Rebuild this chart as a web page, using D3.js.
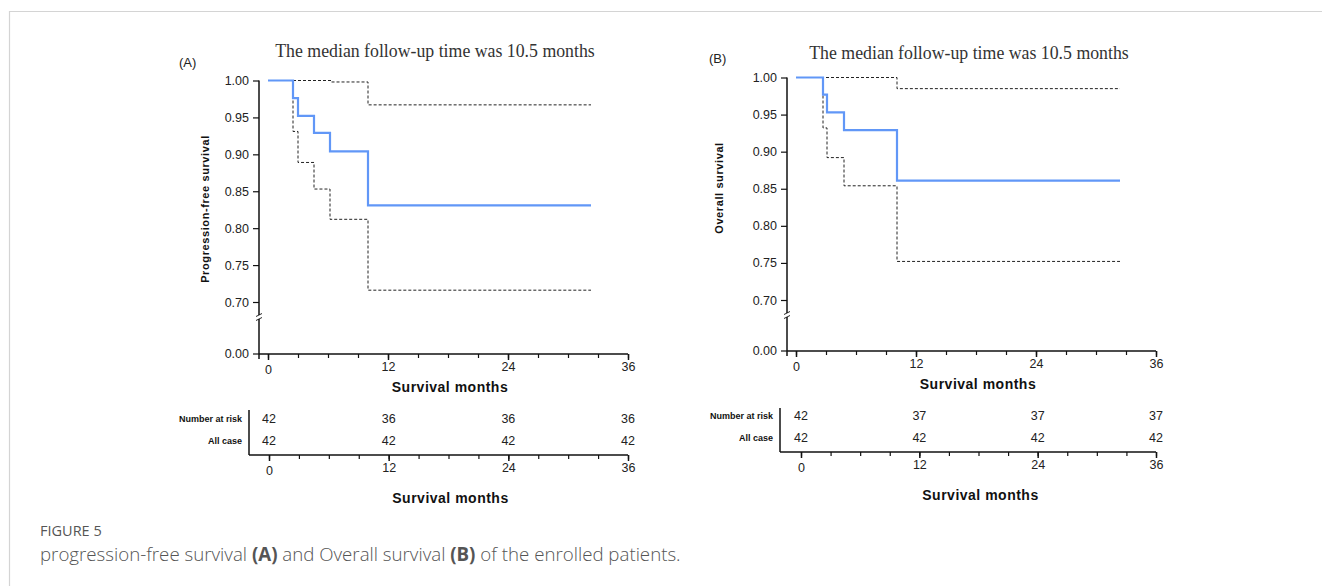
<!DOCTYPE html>
<html>
<head>
<meta charset="utf-8">
<script src="https://cdn.jsdelivr.net/npm/d3@7"></script>
<style>
  body { margin: 0; background: #fff; }
  svg { display: block; }
  .tick text { font-family: Arial, "Liberation Sans", sans-serif; }
</style>
</head>
<body>
<svg id="fig" width="1322" height="586"></svg>
<script>
// month ticks and survival ticks
const monthTicks = [0, 12, 24, 36];
const minorMonths = [0, 3, 6, 9, 12, 15, 18, 21, 24, 27, 30, 33, 36];
const survTicks = [0.70, 0.75, 0.80, 0.85, 0.90, 0.95, 1.00];

// (A) progression-free survival, KM estimate + 95% CI
const pfsTime = [0, 2.5, 3.0, 4.6, 6.2, 10.0, 32.3];
const pfsEst = [1.0, 0.976, 0.952, 0.929, 0.904, 0.831, 0.831];
const pfsUpperTime = [0, 6.3, 10.0, 32.3];
const pfsUpper = [1.0, 0.998, 0.967, 0.967];
const pfsLowerTime = [0, 2.5, 3.0, 4.6, 6.2, 10.0, 32.3];
const pfsLower = [1.0, 0.931, 0.889, 0.853, 0.812, 0.716, 0.716];

// (B) overall survival
const osTime = [0, 2.7, 3.1, 4.8, 10.1, 32.4];
const osEst = [1.0, 0.977, 0.953, 0.929, 0.861, 0.861];
const osUpperTime = [0, 10.1, 32.4];
const osUpper = [1.0, 0.985, 0.985];
const osLowerTime = [0, 2.7, 3.1, 4.8, 10.1, 32.4];
const osLower = [1.0, 0.932, 0.892, 0.854, 0.752, 0.752];

// risk tables
const riskRows = ["Number at risk", "All case"];
const pfsAtRisk = [42, 36, 36, 36];
const pfsAllCase = [42, 42, 42, 42];
const osAtRisk = [42, 37, 37, 37];
const osAllCase = [42, 42, 42, 42];

const titleText = "The median follow-up time was 10.5 months";
const svg = d3.select("#fig");
const sans = "Arial, 'Liberation Sans', sans-serif";
const tickFont = 12.5;

// figure frame
svg.append("path")
  .attr("d", "M9.5,586 L9.5,11.5 L1322,11.5")
  .attr("fill", "none").attr("stroke", "#d4d4d4").attr("stroke-width", 1.2);

function toPts(t, v) { return t.map((d, i) => [d, v[i]]); }

function drawPanel(p) {
  const g = svg.append("g");
  const x = d3.scaleLinear().domain([0, 36]).range([p.x0, p.x36]);
  const y = d3.scaleLinear().domain([0.70, 1.00]).range([p.y70, p.y100]);
  const yZero = p.yZero;

  // panel letter + title
  g.append("text").attr("x", p.letterX).attr("y", p.letterY)
    .attr("font-family", sans).attr("font-size", 13).attr("fill", "#222").text(p.letter);
  g.append("text").attr("x", p.titleX).attr("y", p.titleY).attr("text-anchor", "middle")
    .attr("font-family", "'Liberation Serif', 'Times New Roman', serif").attr("font-size", 17.8)
    .attr("fill", "#333").text(titleText);

  // y axis (upper part)
  const yAx = g.append("g").attr("transform", `translate(${p.axX},0)`)
    .call(d3.axisLeft(y).tickValues(survTicks).tickSize(6).tickSizeOuter(0).tickFormat(d3.format(".2f")));
  yAx.select(".domain").remove();
  yAx.selectAll(".tick line").attr("stroke", "#111").attr("stroke-width", 1.2);
  yAx.selectAll(".tick text").attr("font-size", tickFont).attr("fill", "#222").attr("x", -10);

  const brk = p.y70 + 15;
  g.append("line").attr("x1", p.axX).attr("x2", p.axX).attr("y1", p.y100).attr("y2", brk - 2)
    .attr("stroke", "#111").attr("stroke-width", 1.5);
  g.append("line").attr("x1", p.axX).attr("x2", p.axX).attr("y1", brk + 2).attr("y2", yZero + 5)
    .attr("stroke", "#111").attr("stroke-width", 1.5);
  [-2, 2].forEach(o => g.append("line")
    .attr("x1", p.axX - 3).attr("x2", p.axX + 3).attr("y1", brk + o + 1.5).attr("y2", brk + o - 1.5)
    .attr("stroke", "#111").attr("stroke-width", 0.9));

  // 0.00 tick
  g.append("line").attr("x1", p.axX - 6).attr("x2", p.axX).attr("y1", yZero).attr("y2", yZero)
    .attr("stroke", "#111").attr("stroke-width", 1.2);
  g.append("text").attr("x", p.axX - 10).attr("y", yZero).attr("dy", "0.32em").attr("text-anchor", "end")
    .attr("font-family", sans).attr("font-size", tickFont).attr("fill", "#222").text("0.00");

  // x axis
  drawXAxis(g, x, yZero, p.axX);

  g.append("text").attr("transform", `translate(${p.yLabX},${p.yLabY}) rotate(-90)`)
    .attr("text-anchor", "middle").attr("font-family", sans).attr("font-weight", "bold")
    .attr("font-size", 11).attr("fill", "#111").attr("letter-spacing", 0.6).text(p.yLabel);
  g.append("text").attr("x", (p.x0 + p.x36) / 2 + 2).attr("y", yZero + 38).attr("text-anchor", "middle")
    .attr("font-family", sans).attr("font-weight", "bold").attr("font-size", 14)
    .attr("letter-spacing", 0.5).attr("fill", "#111").text("Survival months");

  // curves
  const line = d3.line().x(d => x(d[0])).y(d => y(d[1])).curve(d3.curveStepAfter);
  [[p.upT, p.up], [p.loT, p.lo]].forEach(([t, v]) => {
    g.append("path").datum(toPts(t, v)).attr("d", line).attr("fill", "none")
      .attr("stroke", "#222").attr("stroke-width", 1).attr("stroke-dasharray", "3,2");
  });
  g.append("path").datum(toPts(p.estT, p.est)).attr("d", line).attr("fill", "none")
    .attr("stroke", "#6197f7").attr("stroke-width", 2.2);

  // risk table
  const rx = d3.scaleLinear().domain([0, 36]).range([p.rx0, p.rx36]);
  const tg = g.append("g");
  tg.append("line").attr("x1", p.rAxX).attr("x2", p.rAxX).attr("y1", p.rTop).attr("y2", p.rAxY)
    .attr("stroke", "#111").attr("stroke-width", 1.5);
  drawXAxis(tg, rx, p.rAxY, p.rAxX);
  [p.atRisk, p.allCase].forEach((vals, r) => {
    const yy = p.rRow0 + r * 22;
    tg.append("text").attr("x", p.rAxX - 7).attr("y", yy - 1).attr("text-anchor", "end")
      .attr("font-family", sans).attr("font-weight", "bold").attr("font-size", 9)
      .attr("fill", "#111").text(riskRows[r]);
    tg.selectAll(null).data(vals).enter().append("text")
      .attr("x", (d, i) => rx(monthTicks[i])).attr("y", yy).attr("text-anchor", "middle")
      .attr("font-family", sans).attr("font-size", tickFont).attr("fill", "#222").text(d => d);
  });
  tg.append("text").attr("x", (p.rx0 + p.rx36) / 2 + 2).attr("y", p.rAxY + 48).attr("text-anchor", "middle")
    .attr("font-family", sans).attr("font-weight", "bold").attr("font-size", 14)
    .attr("letter-spacing", 0.5).attr("fill", "#111").text("Survival months");
}

function drawXAxis(g, x, yPos, startX) {
  g.append("line").attr("x1", startX).attr("x2", x(36)).attr("y1", yPos).attr("y2", yPos)
    .attr("stroke", "#111").attr("stroke-width", 1.5);
  const minor = g.append("g").attr("transform", `translate(0,${yPos})`)
    .call(d3.axisBottom(x).tickValues(minorMonths).tickSize(4).tickFormat(""));
  minor.select(".domain").remove();
  minor.selectAll(".tick line").attr("stroke", "#111").attr("stroke-width", 1.2);
  const major = g.append("g").attr("transform", `translate(0,${yPos})`)
    .call(d3.axisBottom(x).tickValues(monthTicks).tickSize(6));
  major.select(".domain").remove();
  major.selectAll(".tick line").attr("stroke", "#111").attr("stroke-width", 1.5);
  major.selectAll(".tick text").attr("font-size", tickFont).attr("fill", "#222")
    .attr("y", d => d === 0 ? 11 : 8);
}

drawPanel({
  letter: "(A)", letterX: 179, letterY: 67, titleX: 435, titleY: 57,
  axX: 259, x0: 268, x36: 628, y100: 80.5, y70: 302, yZero: 354,
  yLabel: "Progression-free survival", yLabX: 209, yLabY: 209,
  estT: pfsTime, est: pfsEst, upT: pfsUpperTime, up: pfsUpper, loT: pfsLowerTime, lo: pfsLower,
  rAxX: 249, rx0: 269, rx36: 628, rTop: 410, rAxY: 455, rRow0: 423,
  atRisk: pfsAtRisk, allCase: pfsAllCase
});

drawPanel({
  letter: "(B)", letterX: 709, letterY: 63, titleX: 969, titleY: 59,
  axX: 787, x0: 796, x36: 1156, y100: 77.5, y70: 300, yZero: 351,
  yLabel: "Overall survival", yLabX: 723, yLabY: 188,
  estT: osTime, est: osEst, upT: osUpperTime, up: osUpper, loT: osLowerTime, lo: osLower,
  rAxX: 780, rx0: 801, rx36: 1156, rTop: 408, rAxY: 452, rRow0: 420,
  atRisk: osAtRisk, allCase: osAllCase
});

// caption
svg.append("text").attr("x", 40).attr("y", 536)
  .attr("font-family", "'Open Sans', sans-serif").attr("font-size", 14.5).attr("fill", "#555")
  .text("FIGURE 5");
const cap = svg.append("text").attr("x", 40).attr("y", 561)
  .attr("font-family", "'Open Sans', sans-serif").attr("font-size", 18.7).attr("fill", "#555")
  .attr("font-weight", 300);
[["progression-free survival ", false], ["(A)", true], [" and Overall survival ", false],
 ["(B)", true], [" of the enrolled patients.", false]].forEach(([t, b]) => {
  cap.append("tspan").attr("font-weight", b ? "bold" : 300).text(t);
});
</script>
</body>
</html>
